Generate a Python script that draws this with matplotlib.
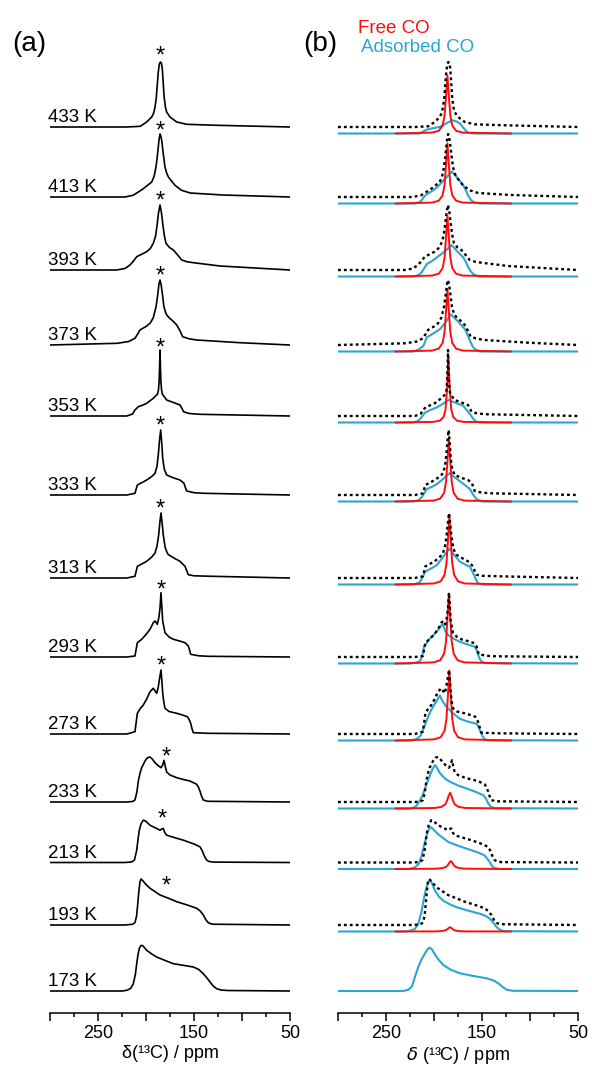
import matplotlib
matplotlib.use('Agg')
import matplotlib.pyplot as plt
from matplotlib.ticker import MultipleLocator, FuncFormatter

plt.rcParams['font.family'] = ['Liberation Sans', 'DejaVu Sans']

RED = '#ff0d0d'
BLUE = '#29a6d2'

temps = [433, 413, 393, 373, 353, 333, 313, 293, 273, 233, 213, 193, 173]
# baseline of each trace, in px above the ppm axis
offsets = [886, 816, 743, 668, 597, 518, 435, 356, 279, 211, 150.5, 88, 22]
comp_shift = 6.5  # fitted components sit a little below the measured trace

# measured spectra: (ppm, intensity) pairs
measured = {
    433: [(300, 0), (220, 0), (206, 0.7), (199.3, 5), (194, 10), (192, 14), (190.6, 20), (189.3, 29), (188.2, 43),
          (187.2, 55), (186.1, 63), (185, 65), (184, 64), (183, 58), (182.1, 45), (181.2, 31), (179.8, 20),
          (178.5, 15), (175, 10), (168, 5), (157.6, 2.7), (126, 1.7), (50, 0)],
    413: [(300, 0), (222, 0), (213.5, 1.7), (208, 5), (202.8, 8.3), (194, 15), (191.5, 21), (189.6, 30),
          (188.3, 40), (187.2, 50), (186.2, 59), (185.3, 63), (184.3, 60), (183.4, 55), (182.6, 48), (181.3, 38),
          (180.2, 30), (178.5, 24), (176.7, 20), (173, 15.5), (169.8, 11.7), (163, 6.7), (154, 4), (120, 2), (50, 0)],
    393: [(300, 0), (230.6, 0), (222, 1.5), (216.7, 5), (213, 9), (209.7, 13.3), (204, 16), (199.3, 18.3),
          (195.5, 21.5), (192.4, 26.7), (190, 34), (188.2, 46.7), (187, 57), (185.4, 65), (184, 58), (182.6, 46.7),
          (181, 35), (179.2, 26.7), (175.5, 22.5), (171.5, 20), (167, 15), (162.8, 10), (157, 8.2), (150.7, 7.3),
          (122.9, 4), (50, 0)],
    373: [(300, 0), (230, 1.7), (218, 3.5), (211.5, 6.7), (209, 10.5), (206.3, 15), (200, 18.5), (195.8, 21.7),
          (192.5, 27), (189.6, 38), (187.8, 50), (186.5, 61), (185.4, 65), (184.2, 60), (182.8, 50), (181.3, 38),
          (179, 31), (176.7, 28), (172, 24), (168, 20), (164.5, 14), (161.8, 8.3), (155, 6.2), (147.2, 5),
          (102, 2.3), (50, 0)],
    353: [(300, 0), (220, 0), (214, 2), (211.5, 6), (208, 9.3), (203, 11), (199.3, 12.7), (192.4, 17.7),
          (188, 22), (187, 26), (186.3, 35), (185.8, 50), (185.4, 66), (185, 50), (184.5, 35), (183.8, 26),
          (183, 22), (178.5, 16), (170, 13), (164.6, 11), (162.5, 7.5), (161, 4.3), (155, 2.5), (143.8, 1.7), (50, 0)],
    333: [(300, 0), (220, 0), (211.5, 1.7), (209, 10), (204, 12.5), (199.3, 15), (194, 18.5), (190.6, 21.7),
          (188.5, 29), (187.2, 40), (186, 54), (184.7, 65), (183.6, 52), (182.6, 36.7), (181, 26), (178.5, 20),
          (171, 17), (164.6, 15), (160.4, 11.7), (159, 7.5), (157.6, 4), (150, 2.3), (140, 1.7), (50, 0)],
    313: [(300, 0), (220, 0), (211.5, 1.7), (209, 11.7), (204, 14.2), (199.3, 16.7), (194, 21), (190.6, 25),
          (188.5, 32), (186.8, 43), (185.5, 56), (184.4, 65), (183.2, 55), (182, 43), (180, 30.5), (178.3, 26),
          (176.7, 23.3), (170, 19.5), (164.6, 16.7), (159.4, 11.7), (157.5, 7), (155.9, 3.3), (150, 2.2),
          (131, 1.7), (50, 0)],
    293: [(300, 0), (220, 0), (211.5, 1), (209, 14.3), (204.5, 17.7), (200, 22.5), (195.8, 27.7), (192.4, 34.3),
          (190.6, 36), (188.2, 32.7), (186.5, 40), (185.4, 49), (184.4, 64.3), (183.5, 50), (182.6, 36),
          (180.2, 24.3), (176, 20), (171.5, 17.7), (165, 16), (159.4, 14.3), (155.9, 11), (154.6, 7),
          (153.5, 2.7), (145, 1.2), (135, 0.7), (50, 0)],
    273: [(300, 0), (220, 0), (211.5, 2.3), (209, 20.7), (206, 25.5), (202.8, 29), (199, 35.5), (195.8, 42.3),
          (192.4, 45.7), (190.5, 43), (188.9, 40.7), (187.4, 46), (186.1, 54), (184.4, 64), (183.5, 54),
          (182.6, 40.7), (181.3, 31), (180.2, 25.7), (176, 22.5), (168, 20.7), (162, 19), (157, 17.3),
          (155.3, 15), (153.5, 10.7), (152, 5), (150.7, 1.3), (135, 0.7), (50, 0)],
    233: [(300, 0), (220, 0), (214, 0.5), (211.5, 2), (209.5, 10), (208, 21), (206.2, 29), (204.5, 34.3),
          (201, 41), (198.5, 44.3), (195.8, 45), (193.5, 43), (190.6, 39.3), (187.5, 36.5), (184.4, 34.3),
          (182.6, 37), (181.3, 41.7), (180, 36), (178.5, 30), (175, 27), (168, 24.3), (161, 22.5), (154.2, 21),
          (147.2, 17.7), (145.5, 15), (143.8, 11), (142, 5.5), (140.3, 2), (136, 0.7), (50, 0)],
    213: [(300, 0), (222, 0), (215, 0.5), (212, 2.5), (209.7, 12.3), (208.2, 24), (207, 32.3), (205, 39),
          (202.8, 42.3), (200.5, 41.5), (195.8, 37.3), (190, 34.5), (185.4, 32.3), (183.5, 33.5), (182, 34),
          (180.5, 30), (178.5, 27.3), (170, 24.8), (161, 22.3), (150, 18.5), (143.8, 15.7), (141.5, 12),
          (139.6, 7.3), (137.3, 3), (135, 1.2), (130, 0.4), (50, 0)],
    193: [(300, 0), (222, 0), (214, 0.7), (211.5, 2.5), (209.8, 9), (208.7, 20), (207.4, 34), (206.3, 43),
          (205.2, 46), (203.5, 44.5), (200, 40.5), (195.8, 36.7), (190, 33), (185.4, 30), (176, 26.5), (168, 23.3),
          (157, 20), (147.2, 16.7), (143.5, 14), (140.3, 10), (137.5, 5), (135, 2.2), (131, 0.8), (50, 0)],
    173: [(300, 0), (225, 0), (220, 0.7), (216, 2.5), (213.2, 7.3), (211, 17), (209.7, 27.3), (208.2, 37),
          (207, 42.3), (205.5, 45.3), (204.5, 45.7), (203, 45), (199.3, 40.7), (194, 37), (188.9, 34), (180, 30.5),
          (171.5, 27.3), (160, 25.5), (150.7, 24), (145, 21.5), (140.3, 17.3), (136.5, 13), (133.3, 9), (130, 5),
          (126.4, 2.3), (122, 1), (115, 0.5), (50, 0)],
}

# fitted free (gas-phase) CO line
free_co = {
    433: [(240, 0), (202, 0.9), (195, 2.7), (191, 8), (189, 18), (187.5, 37), (186, 58), (184.5, 37), (183, 18),
          (181, 8), (177, 2.7), (170, 0.9), (120, 0)],
    413: [(240, 0), (202, 0.9), (195, 2.8), (191, 8.3), (189, 18.5), (187.5, 38.4), (186, 60), (184.5, 38.4),
          (183, 18.5), (181, 8.3), (177, 2.8), (170, 0.9), (120, 0)],
    393: [(240, 0), (202, 0.9), (195, 2.8), (191, 8.4), (189, 18.8), (187.5, 38.8), (186, 60.6), (184.5, 38.8),
          (183, 18.8), (181, 8.4), (177, 2.8), (170, 0.9), (120, 0)],
    373: [(240, 0), (202, 0.9), (195, 2.9), (191, 8.6), (189, 19.3), (187.5, 39.9), (186, 62.3), (184.5, 39.9),
          (183, 19.3), (181, 8.6), (177, 2.9), (170, 0.9), (120, 0)],
    353: [(240, 0), (201, 0.6), (194, 1.8), (190, 5.4), (188, 13), (186.5, 32.5), (185, 65), (183.5, 32.5),
          (182, 13), (180, 5.4), (176, 1.8), (169, 0.6), (120, 0)],
    333: [(240, 0), (200.5, 0.9), (193.5, 2.9), (189.5, 8.6), (187.5, 19.3), (186, 39.9), (184.5, 62.3),
          (183, 39.9), (181.5, 19.3), (179.5, 8.6), (175.5, 2.9), (168.5, 0.9), (120, 0)],
    313: [(240, 0), (200, 1), (193, 3.2), (189, 9.5), (187, 21.4), (185.5, 44.2), (184, 69), (182.5, 44.2),
          (181, 21.4), (179, 9.5), (175, 3.2), (168, 1), (120, 0)],
    293: [(240, 0), (200.5, 1.1), (193.5, 3.3), (189.5, 9.7), (187.5, 21.7), (186, 44.8), (184.5, 70), (183, 44.8),
          (181.5, 21.7), (179.5, 9.7), (175.5, 3.3), (168.5, 1.1), (120, 0)],
    273: [(240, 0), (200, 1.1), (193, 3.3), (189, 9.7), (187, 21.7), (185.5, 44.8), (184, 70), (182.5, 44.8),
          (181, 21.7), (179, 9.7), (175, 3.3), (168, 1.1), (120, 0)],
    233: [(240, 0), (199.3, 0.5), (192.3, 1.6), (188.3, 4.1), (186.3, 7.9), (184.8, 12.6), (183.3, 15.7),
          (181.8, 12.6), (180.3, 7.9), (178.3, 4.1), (174.3, 1.6), (167.3, 0.5), (120, 0)],
    213: [(240, 0), (198.5, 0.3), (191.5, 0.8), (187.5, 2.1), (185.5, 4), (184, 6.4), (182.5, 8), (181, 6.4),
          (179.5, 4), (177.5, 2.1), (173.5, 0.8), (166.5, 0.3), (120, 0)],
    193: [(240, 0), (199.3, 0.1), (192.3, 0.4), (188.3, 1.1), (186.3, 2.2), (184.8, 3.4), (183.3, 4.3),
          (181.8, 3.4), (180.3, 2.2), (178.3, 1.1), (174.3, 0.4), (167.3, 0.1), (120, 0)],
}

# fitted adsorbed CO powder pattern
adsorbed_co = {
    433: [(300, 0), (215, 0), (211.5, 1.7), (208.5, 3.5), (206, 4.3), (193.7, 6.7), (181, 13.3), (176.5, 12),
          (172.9, 10), (168.8, 5), (166, 2), (164.3, 0.7), (158, 0), (50, 0)],
    413: [(300, 0), (220, 0), (216, 1), (213, 3), (210.5, 6.5), (208, 9), (202, 12.5), (197, 16), (189, 24),
          (181.5, 32), (176, 26), (170, 19), (167, 13.5), (164.5, 8), (161.5, 3.5), (159, 1.5), (152, 0), (50, 0)],
    393: [(300, 0), (221, 0), (216, 1.5), (213, 4), (210, 8.5), (207.6, 12.3), (202, 15.5), (197.2, 19),
          (189, 25), (181.6, 31.3), (176, 25.5), (169.5, 19), (166.5, 14), (164.2, 9), (161.5, 5), (159, 2.3),
          (153, 0), (50, 0)],
    373: [(300, 0), (221, 0), (215, 2.5), (211, 5.7), (209.2, 10), (207.6, 14), (200, 18.5), (193.8, 22.3),
          (188, 29), (182.6, 37.3), (175, 30), (167.7, 22.3), (165, 16.5), (162.5, 10.7), (160, 5.5),
          (157.3, 2.3), (152, 0), (50, 0)],
    353: [(300, 0), (222, 0), (217.5, 1.2), (214.6, 3.3), (212, 6.5), (209.4, 10), (203, 12.8), (197.2, 15),
          (191, 18.5), (185.1, 22.5), (177, 19.5), (169.5, 16.7), (166, 12.5), (162.5, 8.3), (159, 3.5),
          (155.6, 0.7), (150, 0), (50, 0)],
    333: [(300, 0), (221, 0), (216, 1.5), (213, 4), (210, 8.5), (207.6, 12.3), (202, 14.8), (197.2, 17.3),
          (190.5, 22.5), (184, 28.3), (177.5, 23.5), (171.2, 19), (166.5, 15.5), (162.5, 12.3), (159, 6.5),
          (155.6, 2.3), (150, 0), (50, 0)],
    313: [(300, 0), (222, 0), (217.5, 1), (214.6, 2.7), (212, 7), (209.4, 12.7), (203, 16), (197.2, 19.3),
          (190.5, 27.5), (184, 36), (178.5, 29), (172.9, 22.7), (167.5, 20), (162.5, 17.7), (160.3, 13.5),
          (158.3, 9.3), (156, 4.5), (153.8, 1), (148, 0), (50, 0)],
    293: [(300, 0), (224, 0), (217, 1.2), (213.9, 3.3), (212, 9), (210.4, 16.7), (205.9, 23.3), (199, 30),
          (194, 35.5), (191, 40), (188.5, 33), (185.1, 28.3), (179, 24.5), (173, 21.7), (165, 19), (157.3, 16.7),
          (155.5, 13), (153.8, 8.3), (152, 4), (150.3, 1.7), (146, 0.3), (50, 0)],
    273: [(300, 0), (224, 0), (218, 1.5), (213.9, 5), (210.4, 13.3), (207, 21.5), (204.2, 28.3), (199, 37),
          (195.5, 42.5), (193.8, 45), (191.5, 40), (188, 35), (185.1, 31.7), (180, 27), (173, 21.7), (165, 19),
          (155.6, 16.7), (153.3, 13), (151.4, 8.3), (149, 3.5), (147, 1), (143, 0.2), (50, 0)],
    233: [(300, 0), (224, 0), (219, 2), (215.5, 6.7), (212, 13), (209.4, 20), (206.5, 27.5), (204.2, 33.3),
          (201.5, 39.5), (199, 43.3), (197, 41), (194.5, 36.5), (192, 33.3), (188, 29.5), (183.3, 26.7), (175, 23),
          (166, 20), (157, 16.8), (148.6, 13.3), (146, 10), (143.4, 5), (140.5, 1.5), (137, 0.3), (50, 0)],
    213: [(300, 0), (226, 0), (220, 1.5), (216, 5), (213, 13), (210, 25), (207, 36), (204, 42), (201.5, 40.5),
          (196, 35), (190, 30.5), (185, 27), (175, 23.3), (165, 20), (155, 16.8), (148, 14), (145, 11), (142, 7),
          (139.5, 3), (137, 1), (132, 0), (50, 0)],
    193: [(300, 0), (230, 0), (225, 0.7), (220, 2.5), (216.3, 7.7), (213, 20), (210.5, 33), (208, 44),
          (205.5, 50), (204.2, 51), (202.5, 49), (199, 41), (195, 35), (190, 30.5), (183, 27), (176.4, 24.3),
          (165, 21), (152, 17.7), (146, 15.5), (141.7, 12.7), (138, 8.5), (134.7, 4.3), (131, 1.5), (127, 0.3),
          (50, 0)],
    173: [(300, 0), (232, 0), (227, 1.2), (223, 4.5), (219.8, 14.3), (216, 25), (212.5, 32.5), (209.4, 37.7),
          (206.5, 42), (204.2, 43.3), (202, 41.5), (199, 36.5), (195, 31), (190.3, 26), (182, 21), (172.9, 17.7),
          (160, 15.2), (145.1, 12.7), (138, 10.5), (133, 7.7), (128.5, 4), (124.3, 1.2), (118, 0.2), (50, 0)],
}

# asterisks marking the free CO line: (ppm, height above baseline)
stars = {
    433: (185.4, 77), 413: (185.4, 72), 393: (185.4, 75), 373: (185.4, 75), 353: (185.4, 74),
    333: (185.4, 75), 313: (185.4, 75.7), 293: (184.6, 73.7), 273: (184.6, 74),
    233: (179.2, 51.7), 213: (182.6, 50), 193: (178.5, 45.7),
}


def trace(pairs, base):
    return [p[0] for p in pairs], [base + p[1] for p in pairs]


fig = plt.figure(figsize=(5.92, 10.71), dpi=100)
W, H = 592.0, 1071.0
ax_a = fig.add_axes([50 / W, 58 / H, 240 / W, 1013 / H])
ax_b = fig.add_axes([338 / W, 58 / H, 240 / W, 1013 / H])

for T, base in zip(temps, offsets):
    x, y = trace(measured[T], base)
    ax_a.plot(x, y, color='black', lw=1.2, solid_joinstyle='round')
    ax_a.text(301.8, base + 5, f'{T} K', fontsize=13.5, ha='left', va='baseline')
    if T in stars:
        sp, sh = stars[T]
        ax_a.text(sp, base + sh - 13, '*', fontsize=17, ha='center', va='baseline')

    cb = base - comp_shift if T != 173 else base
    x, y = trace(adsorbed_co[T], cb)
    ax_b.plot(x, y, color=BLUE, lw=1.5, solid_joinstyle='round', zorder=2)
    if T in free_co:
        x, y = trace(free_co[T], cb)
        ax_b.plot(x, y, color=RED, lw=1.4, solid_joinstyle='round', zorder=3)
        x, y = trace(measured[T], base)
        ax_b.plot(x, y, color='black', lw=1.7, linestyle=(0, (1.2, 1.3)), zorder=4)

fmt = FuncFormatter(lambda v, pos: f'{v:.0f}' if round(v) in (250, 150, 50) else '')
for ax in (ax_a, ax_b):
    ax.set_xlim(300, 50)
    ax.set_ylim(0, 1013)
    for s in ('top', 'left', 'right'):
        ax.spines[s].set_visible(False)
    ax.spines['bottom'].set_linewidth(1.1)
    ax.set_yticks([])
    ax.xaxis.set_major_locator(MultipleLocator(50))
    ax.xaxis.set_minor_locator(MultipleLocator(25))
    ax.xaxis.set_major_formatter(fmt)
    ax.tick_params(axis='x', which='major', length=5.5, width=1.1, labelsize=13, pad=3)
    ax.tick_params(axis='x', which='minor', length=3, width=1.1)
    ax.patch.set_alpha(0)

ax_a.set_xlabel('δ(¹³C) / ppm', fontsize=13, labelpad=2)
ax_b.set_xlabel(r'$\delta$ (¹³C) / ppm', fontsize=13, labelpad=2)

fig.text(12 / W, 1 - 51 / H, '(a)', fontsize=20, va='baseline')
fig.text(303 / W, 1 - 51 / H, '(b)', fontsize=20, va='baseline')
fig.text(358 / W, 1 - 33 / H, 'Free CO', fontsize=13.5, color=RED, va='baseline')
fig.text(361 / W, 1 - 51.5 / H, 'Adsorbed CO', fontsize=13.5, color=BLUE, va='baseline')

fig.savefig('out.png', dpi=100)
